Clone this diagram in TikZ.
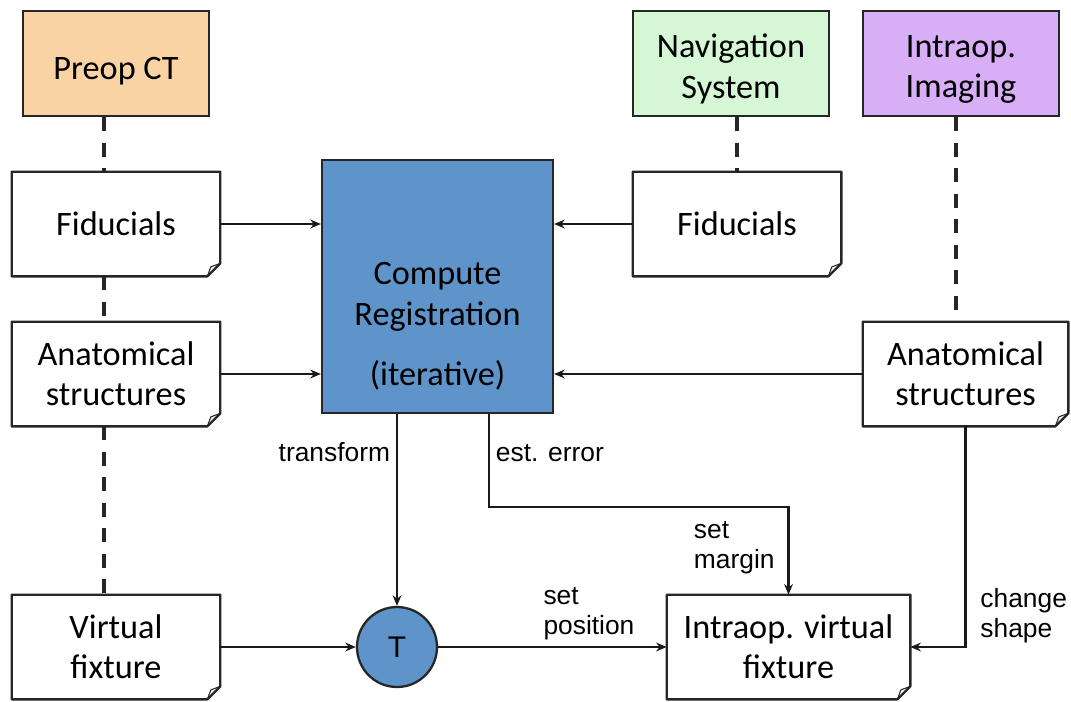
\documentclass[tikz,border=0pt]{standalone}
\usepackage{fontspec}
\setmainfont{Carlito}
\newfontfamily\lblfont{Liberation Sans}
\usepackage{tikz}
\usetikzlibrary{positioning, arrows.meta}

\definecolor{ctorange}{HTML}{FAD3A5}
\definecolor{navgreen}{HTML}{D5F7D5}
\definecolor{imgviolet}{HTML}{D8AEF6}
\definecolor{regblue}{HTML}{5E94C9}

\newcommand{\boxfont}{\fontsize{19.5}{23}\selectfont}
\newcommand{\lbltext}{\lblfont\fontsize{15}{17}\selectfont}
\newcommand{\topgap}[1]{\rule{0pt}{#1}}
\newcommand{\foldframe}[1]{%
  \draw[line width=1.3pt, draw=black!85, line join=round]
    (#1.north west) -- (#1.north east) -- ([yshift=0.26cm]#1.south east)
    -- ([xshift=-0.26cm]#1.south east) -- (#1.south west) -- cycle;
  \draw[line width=0.6pt, draw=black!85, line join=round]
    ([yshift=0.26cm]#1.south east) -- ([xshift=-0.19cm,yshift=0.19cm]#1.south east)
    -- ([xshift=-0.26cm]#1.south east);
}

\begin{document}
\begin{tikzpicture}[>={Stealth[length=6pt,width=5pt]}, node distance=3cm]
\tikzstyle{srcbox}=[draw=black!85, line width=1.3pt, minimum width=3.92cm,
                    minimum height=2.1cm, align=center, font=\boxfont]
\tikzstyle{docbox}=[fill=white, minimum width=4.16cm, minimum height=2.08cm,
                    align=center, font=\boxfont]
\tikzstyle{regbox}=[draw=black!85, fill=regblue, line width=1.3pt,
                    minimum width=4.62cm, minimum height=5.06cm]
\tikzstyle{regtext}=[align=center, font=\boxfont]
\tikzstyle{tnode}=[circle, draw=black!85, fill=regblue, line width=1.3pt,
                   minimum size=1.6cm, inner sep=0pt, font=\lblfont\fontsize{17}{20}\selectfont]
\tikzstyle{lbl}=[font=\lbltext, align=left]
\tikzstyle{arr}=[->, line width=1.25pt, draw=black!90]
\tikzstyle{dashlink}=[line width=1.8pt, draw=black!85, dash pattern=on 8pt off 6.5pt]

  \useasboundingbox (0,0) rectangle (21.42,-14.02);

  \node[srcbox, fill=ctorange, minimum width=3.72cm] (preop) at (2.32,-1.27) {\topgap{1.1em}Preop CT};
  \node[docbox] (fidL)  [below of=preop, node distance=3.21cm] {Fiducials};
  \node[docbox] (anatL) [below of=fidL] {Anatomical\\structures};
  \node[docbox] (virt)  [below of=anatL, node distance=5.46cm] {Virtual\\fixture};
  \node[regbox] (creg)  [right of=fidL, node distance=6.43cm, yshift=-1.25cm] {};
  \node[regtext] (cregtxt) [below of=creg, node distance=0.8cm]
        {Compute\\Registration\\[0.4cm](iterative)};
  \node[docbox] (fidR)  [right of=fidL, node distance=12.42cm] {Fiducials};
  \node[srcbox, fill=navgreen] (nav) [above of=fidR, node distance=3.21cm, xshift=-0.12cm] {\topgap{1.0em}Navigation\\System};
  \node[srcbox, fill=imgviolet] (iimg) [right of=nav, node distance=4.6cm] {\topgap{1.0em}Intraop.\\Imaging};
  \node[docbox, minimum width=4.1cm] (anatR) [right of=anatL, node distance=16.99cm] {Anatomical\\structures};
  \node[tnode] (tn) [right of=virt, node distance=5.62cm] {T};
  \node[docbox, minimum width=4.86cm] (ivf) [right of=tn, node distance=7.83cm] {Intraop. virtual\\fixture};

  \foreach \d in {fidL, anatL, virt, fidR, anatR, ivf}
    \foldframe{\d};

  \foreach \a/\b in {preop/fidL, fidL/anatL, anatL/virt}
    \draw[dashlink] ([xshift=-0.24cm]\a.south) -- ([xshift=-0.24cm]\b.north);
  \draw[dashlink] (fidR.north |- nav.south) -- (fidR.north);
  \draw[dashlink] ([xshift=-0.1cm]iimg.south) -- ([xshift=-0.1cm]iimg.south |- anatR.north);

  \draw[arr] (fidL)  -- (creg.west |- fidL);
  \draw[arr] (anatL) -- (creg.west |- anatL);
  \draw[arr] (fidR)  -- (creg.east |- fidR);
  \draw[arr] (anatR) -- (creg.east |- anatR);
  \draw[arr] (virt)  -- (tn);
  \draw[arr] (tn) -- node[lbl, above, pos=0.66] (lpos) {set\\position} (ivf);
  \draw[arr] (creg.south -| tn) -- node[lbl, left, pos=0.2] (ltrans) {transform} (tn);
  \draw[arr] ([xshift=1.03cm]creg.south) -- node[lbl, right, pos=0.42] (lerr) {est. error}
        ++(0,-1.86) -| node[lbl, left, pos=0.73, xshift=-0.14cm] (lmarg) {set\\margin} (ivf.north);
  \draw[arr] (anatR.south) |- node[lbl, right, pos=0.43, xshift=0.16cm] (lshape) {change\\shape} (ivf.east);
\end{tikzpicture}
\end{document}
